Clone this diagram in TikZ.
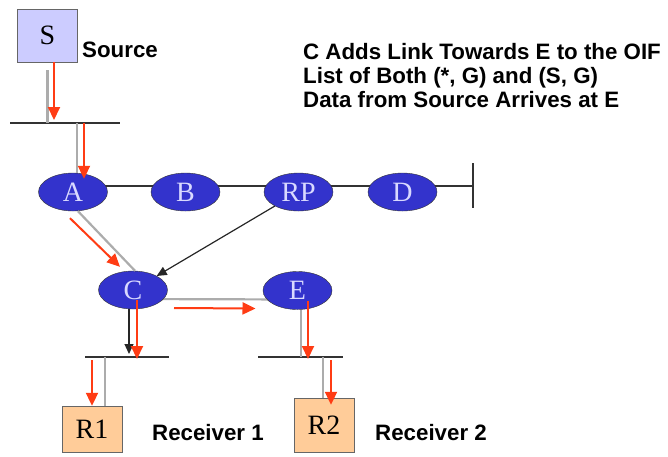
\documentclass[tikz,border=0pt]{standalone}
\usepackage{fontspec}
\setmainfont{Liberation Serif}
\setsansfont{Liberation Sans}
\usetikzlibrary{arrows.meta,shapes.geometric,backgrounds}

\definecolor{routerblue}{RGB}{51,51,204}
\definecolor{hostlilac}{RGB}{204,204,255}
\definecolor{hostorange}{RGB}{255,204,153}
\definecolor{datared}{RGB}{255,60,20}

\tikzset{
  router/.style={ellipse,draw=black!80,fill=routerblue,text=white!85!blue,
    minimum width=69pt,minimum height=38pt,inner sep=0pt,font=\fontsize{28}{28}\selectfont},
  hostbox/.style={rectangle,draw=black!60,minimum width=60pt,inner sep=0pt,
    font=\fontsize{28}{28}\selectfont},
  caption/.style={anchor=base west,inner sep=0pt,font=\sffamily\bfseries\fontsize{22.3}{24}\selectfont},
  lanbar/.style={draw=black!80,line width=1.8pt},
  linkline/.style={draw=gray!65,line width=2.2pt},
  dataflow/.style={draw=datared,line width=2pt,-{Triangle[length=13pt,width=12pt]}},
  joinarrow/.style={draw=black!85,line width=1.2pt,-{Triangle[length=10pt,width=9pt]}}
}

\begin{document}
\begin{tikzpicture}[x=1pt,y=-1pt]
    \useasboundingbox (0,0) rectangle (668,456);

    % hosts and routers
    \node[hostbox,fill=hostlilac,minimum height=53pt] (S) at (47.5,35.5) {S};
    \begin{scope}[every node/.style={router}]
        \node (A)  at (73,192)    {A};
        \node (B)  at (185.5,192) {B};
        \node (RP) at (298.5,192) {RP};
        \node (D)  at (402.5,192) {D};
        \node (C)  at (133,290)   {C};
        \node (E)  at (297.5,290.5) {E};
    \end{scope}
    \node[hostbox,fill=hostorange,minimum height=46pt] (R1) at (92,429)  {R1};
    \node[hostbox,fill=hostorange,minimum height=54pt] (R2) at (324,425) {R2};

    % LAN segments
    \coordinate (lanS)    at (10,123);
    \coordinate (lanSend) at (120,123);
    \coordinate (lanL)    at (85,357);
    \coordinate (lanLend) at (169,357);
    \coordinate (lanR)    at (258,357);
    \coordinate (lanRend) at (343,357);
    \coordinate (bbend)   at (473,186);

    \begin{scope}[on background layer]
        \draw[lanbar] ([yshift=6pt]A.center) -- (bbend);
        \draw[linkline] ([yshift=-9pt]C.center) -- ([yshift=-9pt]E.center);
    \end{scope}
    \draw[lanbar] ([yshift=23pt]bbend) -- ([yshift=-22pt]bbend);
    \draw[lanbar] (lanS) -- (lanSend);
    \draw[lanbar] (lanL) -- (lanLend);
    \draw[lanbar] (lanR) -- (lanRend);

    % links
    \draw[linkline] ([yshift=-8pt]S.south) -- (S.south |- lanS);
    \draw[linkline] ([xshift=4pt]A.north |- lanS) -- ([xshift=4pt]A.north);
    \draw[linkline] ([xshift=5pt]A.south) -- ([xshift=2pt]C.north);
    \draw[linkline] ([xshift=3.5pt]E.south) -- ([xshift=3.5pt]E.south |- lanR);
    \draw[linkline] ([xshift=13pt]R1.north |- lanL) -- ([xshift=13pt]R1.north);
    \draw[linkline] ([xshift=-1pt]R2.north |- lanR) -- ([xshift=-1pt]R2.north);

    % join towards RP
    \draw[joinarrow] (RP) -- (C);
    \draw[joinarrow,shorten >=3pt] ([xshift=-4pt]C.south) -- ([xshift=-4pt]C.south |- lanL);

    % data from source
    \draw[dataflow,shorten >=3pt] ([xshift=6.5pt]S.south) -- ([xshift=6.5pt]S.south |- lanS);
    \draw[dataflow,shorten >=-6pt] ([xshift=11pt]A.north |- lanS) -- ([xshift=11pt]A.north);
    \draw[dataflow] ([xshift=-3pt,yshift=-7pt]A.south) -- ([xshift=-13pt,yshift=4pt]C.north);
    \draw[dataflow] ([xshift=41pt,yshift=-18pt]C.center) -- ([xshift=-42pt,yshift=-18pt]E.center);
    \draw[dataflow,shorten >=-2pt] ([xshift=4pt,yshift=9pt]C.south) -- ([xshift=4pt]C.south |- lanL);
    \draw[dataflow,shorten >=-2pt] ([xshift=10.5pt,yshift=9pt]E.south) -- ([xshift=10.5pt]E.south |- lanR);
    \draw[dataflow] ([yshift=-3pt]R1.north |- lanL) -- (R1.north);
    \draw[dataflow,shorten >=-7pt] ([xshift=7pt,yshift=-3pt]R2.north |- lanR) -- ([xshift=7pt]R2.north);

    % texts
    \node[caption] (srclabel) at (82,57)  {Source};
    \node[caption] (note1)    at (303,59)  {C Adds Link Towards E to the OIF};
    \node[caption] (note2)    at (303,83)  {List of Both (*, G) and (S, G)};
    \node[caption] (note3)    at (303,107) {Data from Source Arrives at E};
    \node[caption] (rcv1)     at (152,440) {Receiver 1};
    \node[caption] (rcv2)     at (375,440) {Receiver 2};
\end{tikzpicture}
\end{document}
